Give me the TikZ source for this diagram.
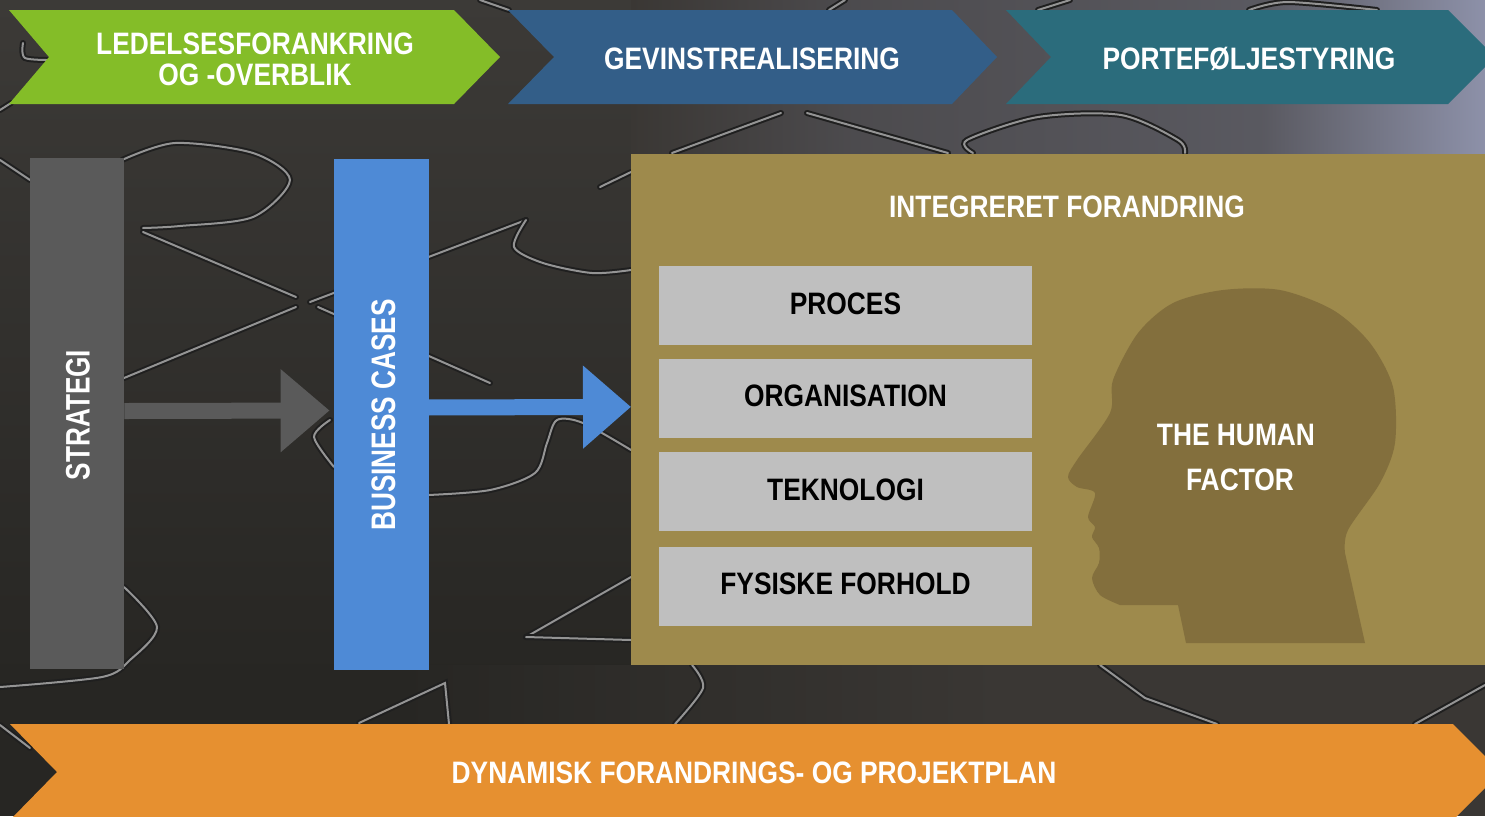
\documentclass[tikz,border=0pt]{standalone}
\usepackage{fontspec}
\setmainfont[FakeStretch=0.85]{Liberation Sans}
\newfontfamily\sidefont[FakeStretch=0.77]{Liberation Sans}
\usetikzlibrary{arrows.meta,shadings}
\definecolor{bgtop}{HTML}{3C3A37}
\definecolor{bglow}{HTML}{272623}
\definecolor{bgwarm}{HTML}{3A3734}
\definecolor{bgsteel}{HTML}{8D91A9}
\definecolor{bandgreen}{HTML}{84BD28}
\definecolor{bandblue}{HTML}{335E88}
\definecolor{bandteal}{HTML}{2B6C7C}
\definecolor{bandorange}{HTML}{E69030}
\definecolor{stratgrey}{HTML}{5A5A5A}
\definecolor{caseblue}{HTML}{4E8AD6}
\definecolor{panelgold}{HTML}{9E8A4C}
\definecolor{headgold}{HTML}{836F3D}
\definecolor{boxgrey}{HTML}{BFBFBF}
\pgfdeclarehorizontalshading{topband}{100bp}{color(0bp)=(bgwarm); color(25bp)=(bgwarm); color(38bp)=(bgwarm!78!bgsteel); color(62bp)=(bgwarm!62!bgsteel); color(75bp)=(bgsteel); color(100bp)=(bgsteel)}
\tikzset{
    >=Triangle,
    seamdark/.style={
           draw=black!88, line width=3pt, line cap=round},
    seamlight/.style={
           draw=white!58!black, line width=1pt, line cap=round},
    label/.style={
           text=white, font=\bfseries\fontsize{15.5}{15.5}\selectfont,
           align=center, inner sep=0pt},
    sidelabel/.style={
           text=white, inner sep=0pt, rotate=90,
           font=\sidefont\bfseries\fontsize{17}{17}\selectfont},
    sidebar/.style={
           minimum width=47pt, minimum height=255.5pt,
           inner sep=0pt},
    panel/.style={
           fill=panelgold, minimum width=450pt, minimum height=255.5pt,
           inner sep=0pt},
    part/.style={
           fill=boxgrey, minimum width=186.5pt, minimum height=39.5pt,
           text=black, inner sep=0pt, text depth=2pt,
           font=\bfseries\fontsize{15.5}{15.5}\selectfont},
    pil/.style={
           ->, line width=8pt}
}
\newcommand{\seam}[1]{\draw[seamdark] #1; \draw[seamlight] #1;}

\begin{document}
\begin{tikzpicture}[x=.5pt,y=-.5pt]
    \useasboundingbox (0,0) rectangle (1485,816);
    \clip (0,0) rectangle (1485,816);
    \shade[top color=bgtop, bottom color=bglow] (0,0) rectangle (631,680);
    \fill[bglow] (0,665) rectangle (400,816);
    \shade[left color=bglow, right color=bgwarm] (400,665) rectangle (1000,816);
    \fill[bgwarm] (1000,665) rectangle (1485,816);
    \shade[shading=topband] (631,0) rectangle (1485,160);

    \seam{(0,160) -- (30,180)}
    \seam{plot[smooth] coordinates {(122,160) (175,143) (253,153) (290,180) (253,217) (180,226) (143,228)}}
    \seam{(143,232) -- (296,297)}
    \seam{(318,307) -- (490,383)}
    \seam{(124,378) -- (296,307)}
    \seam{(310,302) -- (526,220)}
    \seam{plot[smooth] coordinates {(526,220) (514,247) (543,263) (592,273) (631,270)}}
    \seam{(600,187) -- (631,172)}
    \seam{plot[smooth] coordinates {(124,587) (157,627) (130,660) (102,677) (0,687)}}
    \seam{plot[smooth] coordinates {(334,467) (314,437) (330,420)}}
    \seam{plot[smooth] coordinates {(428,495) (490,490) (535,473) (547,443) (557,420) (583,423) (631,450)}}
    \seam{(526,637) -- (631,577)}
    \seam{(526,637) -- (631,640)}
    \seam{(359,723) -- (445,683) -- (449,724)}
    \seam{plot[smooth] coordinates {(692,665) (703,688) (675,724)}}
    \seam{(1100,665) -- (1145,698) -- (1217,724)}
    \seam{(1415,724) -- (1485,685)}
    \seam{(672,153) -- (781,113)}
    \seam{(807,113) -- (948,153)}
    \seam{plot[smooth] coordinates {(973,153) (967,140) (1038,117) (1121,115) (1178,140) (1185,153)}}
    \seam{(480,0) -- (509,10)}
    \seam{(829,10) -- (845,0)}
    \seam{(1038,10) -- (1070,0)}
    \seam{plot[smooth] coordinates {(1249,10) (1288,2) (1377,10)}}
    \seam{plot[smooth] coordinates {(23,43) (25,58) (54,60)}}
    \seam{(0,110) -- (11,103)}
    \seam{(0,725) -- (30,748)}

    \foreach \xa/\xb/\xc/\xd/\col in {9/49/454/500/bandgreen,508/554/952/997/bandblue,1006/1051/1448/1495/bandteal}
        \fill[\col] (\xa,10) -- (\xc,10) -- (\xd,57) -- (\xc,104) -- (\xa,104) -- (\xb,57) -- cycle;
    \fill[bandorange] (10,724) -- (1453,724) -- (1501,772) -- (1453,820) -- (10,820) -- (57,772) -- cycle;

    \node[label] (ledelse) at (255,59) {LEDELSESFORANKRING\\OG -OVERBLIK};
    \node[label] (gevinst) at (752,59) {GEVINSTREALISERING};
    \node[label] (portefolje) at (1249,59) {PORTEFØLJESTYRING};
    \node[label] (dynamisk) at (754,773) {DYNAMISK FORANDRINGS- OG PROJEKTPLAN};

    \node[sidebar, fill=stratgrey] (strategi) at (77,413) {};
    \node[sidebar, fill=caseblue, minimum width=47.5pt] (cases) at (381.5,414.5) {};
    \node[sidelabel] (strategitekst) at (78,415) {STRATEGI};
    \node[sidelabel] (casestekst) at (383.5,415) {BUSINESS CASES};

    \node[panel, anchor=north west] (integreret) at (631,154) {};
    \node[label] (titel) at (1067,207) {INTEGRERET FORANDRING};
    \node[part] (proces) at (845.5,305.5) {PROCES};
    \node[part] (organisation) at (845.5,398) {ORGANISATION};
    \node[part] (teknologi) at (845.5,491.5) {TEKNOLOGI};
    \node[part] (fysiske) at (845.5,586) {FYSISKE FORHOLD};

    \fill[headgold] (1186,643) -- (1178,605) -- (1120,605)
        -- plot[smooth] coordinates {(1120,605) (1100,595) (1092,578) (1099,563) (1099,548) (1092,537) (1095,527) (1088,517) (1095,493) (1077,487) (1068,477) (1077,460) (1110,413) (1113,380) (1138,333) (1173,303) (1223,290) (1280,290) (1333,310) (1370,343) (1393,387) (1395,443) (1380,483) (1348,530) (1345,553)}
        -- (1365,643) -- cycle;
    \node[label] (human) at (1236,435) {THE HUMAN};
    \node[label] (factor) at (1240,480) {FACTOR};

    \draw[pil, stratgrey, -{Triangle[length=24.5pt,width=40pt]}] ([yshift=1pt]strategi.east) -- ([xshift=-2pt,yshift=2pt]cases.west);
    \draw[pil, caseblue, -{Triangle[length=24pt,width=40pt]}] ([xshift=-2pt,yshift=3.5pt]cases.east) -- ([yshift=1.5pt]integreret.west);
\end{tikzpicture}
\end{document}
